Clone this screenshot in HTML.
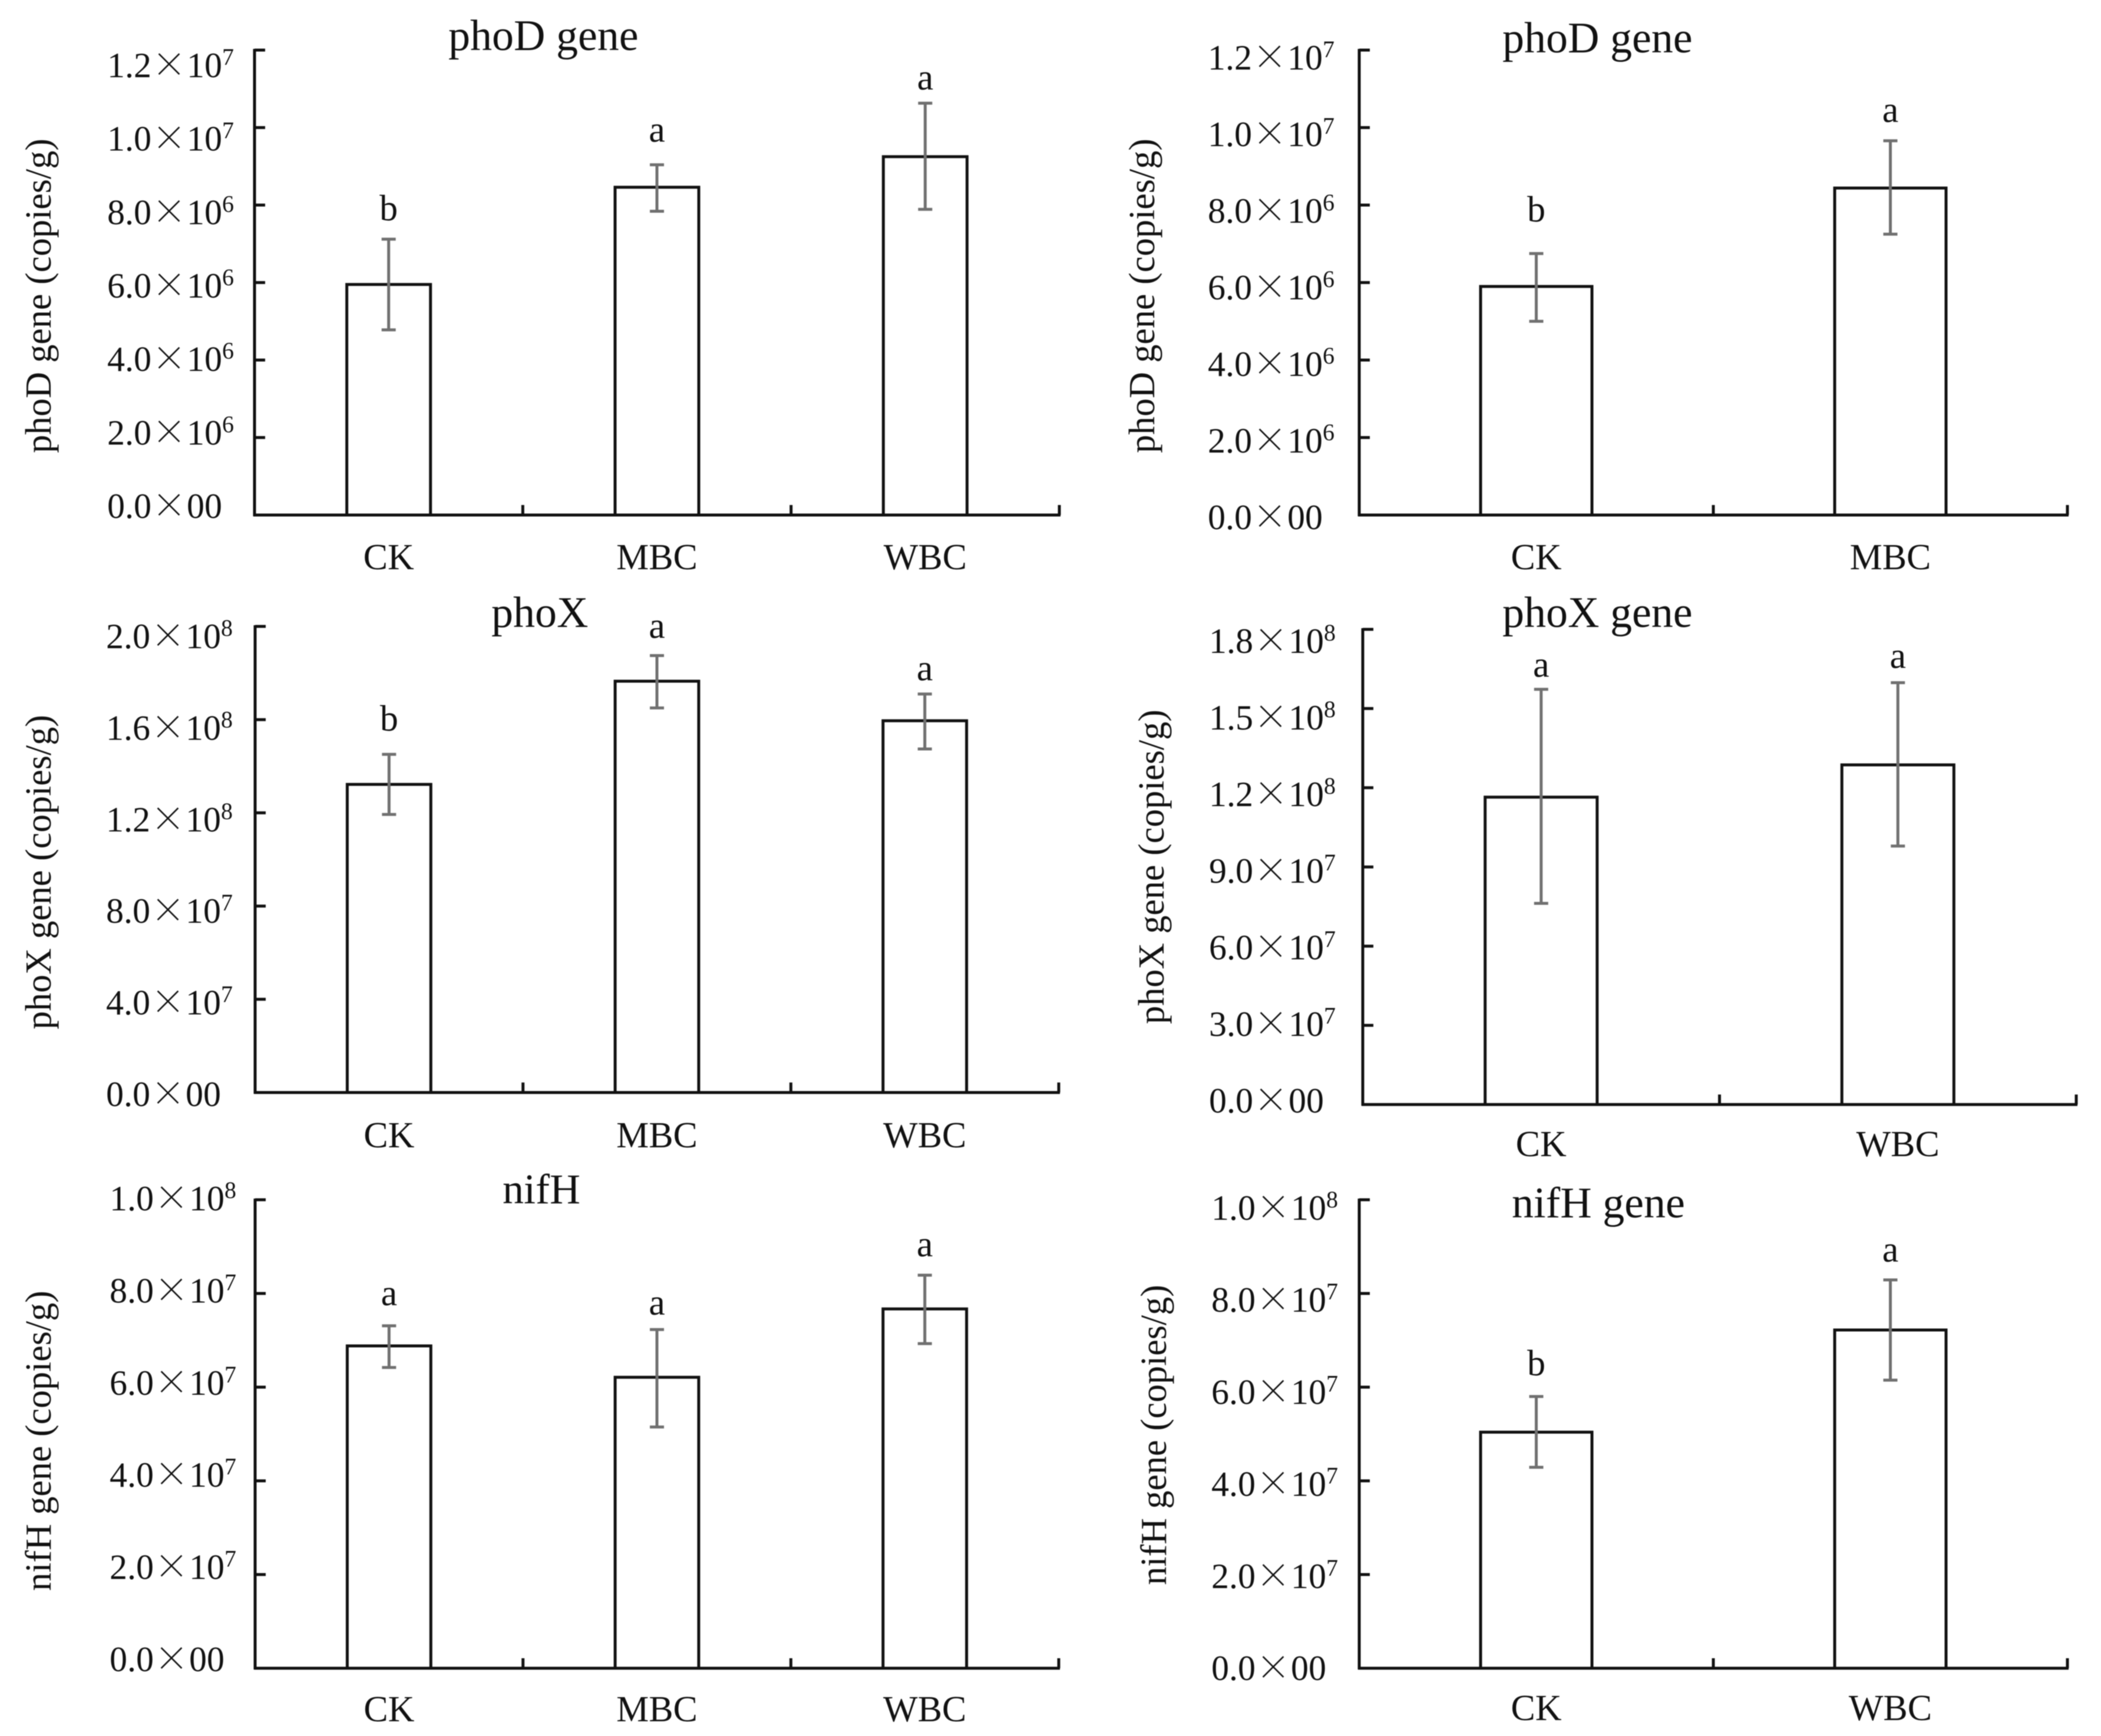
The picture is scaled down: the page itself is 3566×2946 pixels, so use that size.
<!DOCTYPE html>
<html lang="en">
<head>
<meta charset="utf-8">
<title>Gene copy number bar charts</title>
<style>
html,body{margin:0;padding:0;background:#fff;}
svg{display:block;filter:blur(0.7px);}
text{font-family:"Liberation Serif","Noto Serif CJK SC",serif;fill:#111;}
</style>
</head>
<body>
<svg id="figure" xmlns="http://www.w3.org/2000/svg" width="3566" height="2946" viewBox="0 0 3566 2946">
  <rect x="0" y="0" width="3566" height="2946" fill="#fff"/>
  <g id="panel1">
    <text x="761" y="85" font-size="74">phoD gene</text>
    <text transform="translate(86,502) rotate(-90)" text-anchor="middle" font-size="62">phoD gene (copies/g)</text>
  </g>
  <g id="panel2">
    <text x="2550" y="89" font-size="74">phoD gene</text>
    <text transform="translate(1959,502) rotate(-90)" text-anchor="middle" font-size="62">phoD gene (copies/g)</text>
  </g>
  <g id="panel3">
    <text x="834" y="1064" font-size="74">phoX</text>
    <text transform="translate(86,1480) rotate(-90)" text-anchor="middle" font-size="62">phoX gene (copies/g)</text>
  </g>
  <g id="panel4">
    <text x="2550" y="1064" font-size="74">phoX gene</text>
    <text transform="translate(1975,1471) rotate(-90)" text-anchor="middle" font-size="62">phoX gene (copies/g)</text>
  </g>
  <g id="panel5">
    <text x="853" y="2042" font-size="72">nifH</text>
    <text transform="translate(86,2445) rotate(-90)" text-anchor="middle" font-size="62">nifH gene (copies/g)</text>
  </g>
  <g id="panel6">
    <text x="2566" y="2066" font-size="74">nifH gene</text>
    <text transform="translate(1979,2435) rotate(-90)" text-anchor="middle" font-size="62">nifH gene (copies/g)</text>
  </g>
</svg>
<script>
// ---- Data ----
const panel1Categories = ['CK', 'MBC', 'WBC'];
const panel1Means = [5.95e6, 8.46e6, 9.25e6];
const panel1ErrHigh = [7.12e6, 9.04e6, 10.63e6];
const panel1ErrLow = [4.78e6, 7.84e6, 7.89e6];
const panel1Letters = ['b', 'a', 'a'];
const panel1TickValues = [0, 2e6, 4e6, 6e6, 8e6, 1e7, 1.2e7];
const panel1TickLabels = [['0.0', '00', ''], ['2.0', '10', '6'], ['4.0', '10', '6'], ['6.0', '10', '6'], ['8.0', '10', '6'], ['1.0', '10', '7'], ['1.2', '10', '7']];

const panel2Categories = ['CK', 'MBC'];
const panel2Means = [5.9e6, 8.44e6];
const panel2ErrHigh = [6.75e6, 9.66e6];
const panel2ErrLow = [5.0e6, 7.25e6];
const panel2Letters = ['b', 'a'];
const panel2TickValues = [0, 2e6, 4e6, 6e6, 8e6, 1e7, 1.2e7];
const panel2TickLabels = [['0.0', '00', ''], ['2.0', '10', '6'], ['4.0', '10', '6'], ['6.0', '10', '6'], ['8.0', '10', '6'], ['1.0', '10', '7'], ['1.2', '10', '7']];

const panel3Categories = ['CK', 'MBC', 'WBC'];
const panel3Means = [1.322e8, 1.765e8, 1.595e8];
const panel3ErrHigh = [1.451e8, 1.875e8, 1.71e8];
const panel3ErrLow = [1.193e8, 1.65e8, 1.474e8];
const panel3Letters = ['b', 'a', 'a'];
const panel3TickValues = [0, 4e7, 8e7, 1.2e8, 1.6e8, 2e8];
const panel3TickLabels = [['0.0', '00', ''], ['4.0', '10', '7'], ['8.0', '10', '7'], ['1.2', '10', '8'], ['1.6', '10', '8'], ['2.0', '10', '8']];

const panel4Categories = ['CK', 'WBC'];
const panel4Means = [1.1645e8, 1.2866e8];
const panel4ErrHigh = [1.573e8, 1.598e8];
const panel4ErrLow = [7.62e7, 9.79e7];
const panel4Letters = ['a', 'a'];
const panel4TickValues = [0, 3e7, 6e7, 9e7, 1.2e8, 1.5e8, 1.8e8];
const panel4TickLabels = [['0.0', '00', ''], ['3.0', '10', '7'], ['6.0', '10', '7'], ['9.0', '10', '7'], ['1.2', '10', '8'], ['1.5', '10', '8'], ['1.8', '10', '8']];

const panel5Categories = ['CK', 'MBC', 'WBC'];
const panel5Means = [6.88e7, 6.21e7, 7.67e7];
const panel5ErrHigh = [7.31e7, 7.23e7, 8.39e7];
const panel5ErrLow = [6.42e7, 5.15e7, 6.93e7];
const panel5Letters = ['a', 'a', 'a'];
const panel5TickValues = [0, 2e7, 4e7, 6e7, 8e7, 1e8];
const panel5TickLabels = [['0.0', '00', ''], ['2.0', '10', '7'], ['4.0', '10', '7'], ['6.0', '10', '7'], ['8.0', '10', '7'], ['1.0', '10', '8']];

const panel6Categories = ['CK', 'WBC'];
const panel6Means = [5.04e7, 7.22e7];
const panel6ErrHigh = [5.8e7, 8.29e7];
const panel6ErrLow = [4.29e7, 6.15e7];
const panel6Letters = ['b', 'a'];
const panel6TickValues = [0, 2e7, 4e7, 6e7, 8e7, 1e8];
const panel6TickLabels = [['0.0', '00', ''], ['2.0', '10', '7'], ['4.0', '10', '7'], ['6.0', '10', '7'], ['8.0', '10', '7'], ['1.0', '10', '8']];

// ---- Panel assembly and layout ----
const panels = [
  { id: 'panel1', cats: panel1Categories, means: panel1Means, hi: panel1ErrHigh, lo: panel1ErrLow, letters: panel1Letters, tv: panel1TickValues, tl: panel1TickLabels,
    box: { l: 432, r: 1798, t: 85, b: 874 }, barFrac: 0.312, labelX: 182, labelBase: 879, labelTop: 131, xBase: 966, letterGap: [32, 39, 23] },
  { id: 'panel2', cats: panel2Categories, means: panel2Means, hi: panel2ErrHigh, lo: panel2ErrLow, letters: panel2Letters, tv: panel2TickValues, tl: panel2TickLabels,
    box: { l: 2307, r: 3509, t: 85, b: 874 }, barFrac: 0.3145, labelX: 2050, labelBase: 898, labelTop: 118, xBase: 966, letterGap: [54, 32] },
  { id: 'panel3', cats: panel3Categories, means: panel3Means, hi: panel3ErrHigh, lo: panel3ErrLow, letters: panel3Letters, tv: panel3TickValues, tl: panel3TickLabels,
    box: { l: 433, r: 1797, t: 1063, b: 1854 }, barFrac: 0.312, labelX: 180, labelBase: 1877, labelTop: 1100, xBase: 1947, letterGap: [40, 30, 23] },
  { id: 'panel4', cats: panel4Categories, means: panel4Means, hi: panel4ErrHigh, lo: panel4ErrLow, letters: panel4Letters, tv: panel4TickValues, tl: panel4TickLabels,
    box: { l: 2313, r: 3524, t: 1068, b: 1874.4 }, barFrac: 0.314, labelX: 2052, labelBase: 1888, labelTop: 1108, xBase: 1962, letterGap: [21, 25] },
  { id: 'panel5', cats: panel5Categories, means: panel5Means, hi: panel5ErrHigh, lo: panel5ErrLow, letters: panel5Letters, tv: panel5TickValues, tl: panel5TickLabels,
    box: { l: 433, r: 1797, t: 2036, b: 2831 }, barFrac: 0.312, labelX: 186, labelBase: 2836, labelTop: 2054, xBase: 2921, letterGap: [35, 25, 32] },
  { id: 'panel6', cats: panel6Categories, means: panel6Means, hi: panel6ErrHigh, lo: panel6ErrLow, letters: panel6Letters, tv: panel6TickValues, tl: panel6TickLabels,
    box: { l: 2307, r: 3509, t: 2036, b: 2831 }, barFrac: 0.3145, labelX: 2056, labelBase: 2851, labelTop: 2070, xBase: 2919, letterGap: [36, 31] }
];

const NS = 'http://www.w3.org/2000/svg';
const AXIS_COLOR = '#111';
const ERR_COLOR = '#707070';
const LINE_W = 5;
const ERR_W = 5;

function svgEl(tag, attrs) {
  const el = document.createElementNS(NS, tag);
  for (const k in attrs) el.setAttribute(k, attrs[k]);
  return el;
}

panels.forEach(function (p) {
  const g = document.getElementById(p.id);
  const maxVal = p.tv[p.tv.length - 1];
  const yScale = function (v) { return p.box.b - (v / maxVal) * (p.box.b - p.box.t); };
  const labelY = function (v) { return p.labelBase - (v / maxVal) * (p.labelBase - p.labelTop); };
  const band = (p.box.r - p.box.l) / p.cats.length;
  const xCenter = function (i) { return p.box.l + band * (i + 0.5); };
  const barW = band * p.barFrac;

  // bars (drawn first so the axes sit on top)
  p.means.forEach(function (m, i) {
    const top = yScale(m);
    const bar = svgEl('path', { d: 'M' + (xCenter(i) - barW / 2) + ' ' + p.box.b + 'V' + top + 'H' + (xCenter(i) + barW / 2) + 'V' + p.box.b, fill: '#fff', stroke: AXIS_COLOR, 'stroke-width': LINE_W });
    
    
    g.appendChild(bar);
  });

  // y axis
  const yAxis = svgEl('line', { x1: p.box.l, x2: p.box.l, y1: yScale(maxVal) - 2, y2: p.box.b + 2, stroke: AXIS_COLOR, 'stroke-width': LINE_W });
  
  
  g.appendChild(yAxis);

  // x axis
  const xAxis = svgEl('line', { x1: p.box.l - 2, x2: p.box.r + 2, y1: p.box.b, y2: p.box.b, stroke: AXIS_COLOR, 'stroke-width': LINE_W });
  
  
  g.appendChild(xAxis);

  // y ticks + tick labels
  p.tv.forEach(function (v, i) {
    if (v !== 0) {
      const t = svgEl('line', { x1: p.box.l, x2: p.box.l + 18, y1: yScale(v), y2: yScale(v), stroke: AXIS_COLOR, 'stroke-width': LINE_W });
      
      
      g.appendChild(t);
    }
    const parts = p.tl[i];
    const label = svgEl('text', { x: p.labelX, y: labelY(v), 'font-size': 60 });
    
    
    const a = svgEl('tspan', {});
    a.textContent = parts[0];
    label.appendChild(a);
    const times = svgEl('tspan', { 'font-family': '"Noto Serif CJK SC","Liberation Serif",serif' });
    times.textContent = '\u00D7';
    label.appendChild(times);
    const b = svgEl('tspan', {});
    b.textContent = parts[1];
    label.appendChild(b);
    if (parts[2]) {
      const sup = svgEl('tspan', { dy: -21, 'font-size': 40 });
      sup.textContent = parts[2];
      label.appendChild(sup);
    }
    g.appendChild(label);
  });

  // x ticks (category boundaries, pointing up)
  p.cats.forEach(function (c, i) {
    const tx = p.box.l + band * (i + 1);
    const t = svgEl('line', { x1: tx, x2: tx, y1: p.box.b, y2: p.box.b - 17, stroke: AXIS_COLOR, 'stroke-width': LINE_W });
    
    
    g.appendChild(t);
  });

  // category labels
  p.cats.forEach(function (c, i) {
    const t = svgEl('text', { x: xCenter(i), y: p.xBase, 'font-size': 62, 'text-anchor': 'middle' });
    
    
    t.textContent = c;
    g.appendChild(t);
  });

  // error bars + significance letters
  p.means.forEach(function (m, i) {
    const cx = xCenter(i);
    const yh = yScale(p.hi[i]);
    const yl = yScale(p.lo[i]);
    const eb = svgEl('path', { d: 'M' + cx + ' ' + yh + 'V' + yl + 'M' + (cx - 12) + ' ' + yh + 'H' + (cx + 12) + 'M' + (cx - 12) + ' ' + yl + 'H' + (cx + 12), fill: 'none', stroke: ERR_COLOR, 'stroke-width': ERR_W });
    
    
    g.appendChild(eb);

    const lt = svgEl('text', { x: cx, y: yh - p.letterGap[i], 'font-size': 62, 'text-anchor': 'middle' });
    
    
    lt.textContent = p.letters[i];
    g.appendChild(lt);
  });
});
</script>
</body>
</html>
